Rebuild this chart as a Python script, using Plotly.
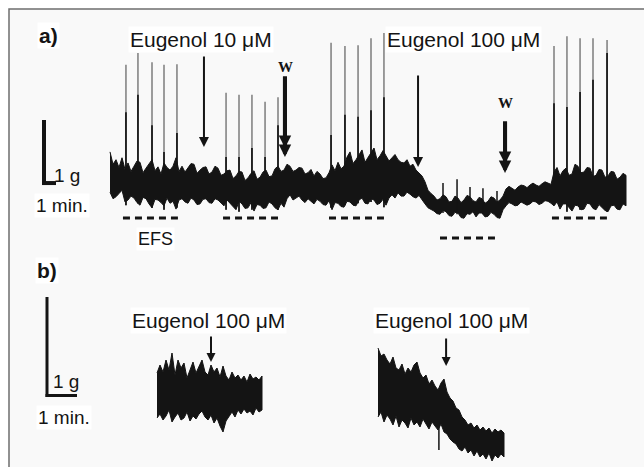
import plotly.graph_objects as go

W, H = 644, 467

# ---------------- Panel a: isometric tension recording ----------------
# envelope of the noisy trace (g), sampled every 0.25 min
a_step = 0.25
a_upper = [0.74, 0.55, 0.62, 0.50, 0.65, 0.47, 0.57, 0.44, 0.52, 0.60,
           0.58, 0.42, 0.49, 0.55, 0.62, 0.45, 0.51, 0.40, 0.57, 0.50,
           0.46, 0.52, 0.65, 0.44, 0.52, 0.43, 0.49, 0.56, 0.55, 0.41,
           0.46, 0.50, 0.51, 0.40, 0.43, 0.52, 0.49, 0.38, 0.40, 0.45,
           0.46, 0.33, 0.37, 0.44, 0.43, 0.30, 0.34, 0.41, 0.45, 0.32,
           0.35, 0.43, 0.46, 0.36, 0.37, 0.48, 0.52, 0.44, 0.46, 0.55,
           0.52, 0.44, 0.46, 0.50, 0.49, 0.40, 0.42, 0.47, 0.37, 0.44,
           0.40, 0.33, 0.34, 0.42, 0.54, 0.45, 0.58, 0.48, 0.52, 0.66,
           0.74, 0.56, 0.62, 0.70, 0.77, 0.58, 0.65, 0.74, 0.80, 0.62,
           0.68, 0.76, 0.69, 0.60, 0.65, 0.70, 0.62, 0.58, 0.57, 0.62,
           0.52, 0.55, 0.46, 0.42, 0.37, 0.28, 0.15, 0.10, 0.06, 0.00,
           0.02, 0.08, 0.05, -0.03, -0.02, 0.06, 0.03, -0.04, 0.00, 0.07,
           0.05, -0.01, -0.03, 0.04, 0.02, -0.05, -0.02, 0.05, 0.03, -0.03,
           0.00, 0.06, 0.17, 0.21, 0.18, 0.15, 0.20, 0.23, 0.22, 0.19,
           0.23, 0.26, 0.23, 0.21, 0.25, 0.28, 0.26, 0.24, 0.43, 0.50,
           0.37, 0.45, 0.49, 0.38, 0.40, 0.55, 0.52, 0.42, 0.43, 0.50,
           0.49, 0.36, 0.38, 0.47, 0.46, 0.35, 0.37, 0.44, 0.43, 0.32,
           0.35, 0.41, 0.38]
a_lower = [0.12, 0.02, 0.05, 0.10, 0.15, -0.03, 0.00, 0.06, 0.03, -0.04,
           -0.08, 0.04, 0.02, -0.06, -0.12, 0.01, 0.00, -0.04, -0.09, 0.03,
           -0.05, -0.02, -0.14, 0.00, 0.02, -0.03, -0.05, 0.03, 0.00, -0.07,
           -0.06, 0.01, 0.02, -0.04, -0.05, 0.02, 0.00, -0.05, -0.09, 0.00,
           -0.05, -0.10, -0.15, -0.02, -0.06, -0.13, -0.12, -0.04, -0.17, -0.07,
           -0.08, -0.13, -0.12, -0.03, -0.06, -0.12, -0.15, -0.05, -0.11, 0.02,
           0.08, 0.00, 0.03, 0.06, 0.00, -0.04, 0.02, -0.02, -0.06, 0.01,
           -0.02, -0.07, -0.08, -0.01, -0.15, -0.04, -0.05, -0.10, -0.11, -0.02,
           -0.03, -0.08, -0.09, 0.00, 0.03, -0.05, -0.06, 0.02, 0.00, -0.07,
           -0.05, 0.01, -0.08, 0.03, 0.08, 0.03, 0.11, 0.06, 0.06, 0.12,
           0.09, 0.05, 0.03, 0.07, 0.00, -0.06, -0.12, -0.15, -0.17, -0.21,
           -0.22, -0.16, -0.18, -0.24, -0.25, -0.19, -0.20, -0.27, -0.28, -0.21,
           -0.22, -0.18, -0.26, -0.20, -0.20, -0.26, -0.25, -0.19, -0.22, -0.27,
           -0.28, -0.15, -0.09, -0.04, -0.06, -0.09, -0.08, -0.03, -0.05, -0.08,
           -0.06, -0.02, -0.03, -0.07, -0.05, -0.01, -0.02, -0.05, -0.09, -0.03,
           -0.14, -0.06, -0.06, -0.12, -0.17, -0.08, -0.09, -0.15, -0.14, -0.05,
           -0.06, -0.13, -0.15, -0.07, -0.11, -0.16, -0.18, -0.09, -0.08, -0.14,
           -0.15, -0.06, -0.09]
a_time = [i * a_step for i in range(len(a_upper))]

# EFS-evoked twitches (min, g); dark = top of the darker lower part of each stroke
a_spike_time = [1.33, 2.33, 3.50, 4.50, 5.58,
                9.67, 10.75, 11.83, 12.92, 14.00,
                18.42, 19.58, 20.67, 21.75, 22.83,
                37.00, 38.08, 39.17, 40.25, 41.42]
a_spike_peak = [2.08, 2.26, 2.12, 2.08, 2.09,
                1.65, 1.62, 1.62, 1.51, 1.58,
                2.42, 2.37, 2.38, 2.49, 2.57,
                2.37, 2.52, 2.49, 2.49, 2.46]
a_spike_dark = [1.35, 1.62, 1.15, 0.74, 1.03,
                0.66, 0.66, 0.80, 0.66, 1.15,
                1.00, 1.31, 1.28, 1.38, 1.58,
                1.49, 1.43, 1.66, 1.85, 2.26]
a_spike_base = [-0.08, -0.05, -0.12, -0.15, -0.12,
                -0.15, -0.18, -0.15, -0.11, -0.15,
                -0.12, -0.08, -0.05, -0.03, -0.11,
                -0.08, -0.18, -0.15, -0.12, -0.18]
# small twitches during Eugenol 100 uM
a_small_time = [27.75, 28.92, 30.00, 31.08, 32.25]
a_small_peak = [0.26, 0.32, 0.20, 0.18, 0.14]
a_small_base = [-0.20, -0.22, -0.20, -0.22, -0.22]

# protocol events (min)
a_drug_time = [7.83, 25.67]
a_drug_label = ["Eugenol 10 \u03bcM", "Eugenol 100 \u03bcM"]
a_wash_time = [14.58, 32.92]
efs_start = [1.08, 9.42, 18.25, 27.50, 36.83]
efs_duration = 4.58

# ---------------- Panel b: two recordings with Eugenol 100 uM ----------------
b_step = 0.1
b1_upper = [0.47, 0.55, 0.48, 0.60, 0.50, 0.67, 0.45, 0.60, 0.52, 0.57,
            0.42, 0.50, 0.58, 0.47, 0.53, 0.60, 0.48, 0.45, 0.55, 0.48,
            0.52, 0.43, 0.54, 0.44, 0.40, 0.48, 0.42, 0.45, 0.40, 0.44,
            0.38, 0.46, 0.41, 0.43, 0.40, 0.44]
b1_lower = [0.02, 0.06, 0.00, 0.04, 0.10, -0.02, 0.03, 0.07, 0.00, 0.02,
            0.08, -0.01, 0.04, 0.01, 0.06, 0.09, 0.03, 0.00, 0.05, -0.03,
            0.02, -0.06, -0.12, -0.01, 0.04, 0.08, 0.03, 0.10, 0.06, 0.11,
            0.07, 0.09, 0.05, 0.12, 0.08, 0.10]
b2_upper = [0.72, 0.64, 0.66, 0.60, 0.56, 0.63, 0.52, 0.50, 0.56, 0.46,
            0.52, 0.48, 0.55, 0.58, 0.47, 0.42, 0.45, 0.36, 0.40, 0.34,
            0.30, 0.37, 0.41, 0.28, 0.22, 0.19, 0.12, 0.10, 0.03, 0.00,
            -0.05, -0.03, -0.08, -0.05, -0.10, -0.07, -0.11, -0.08, -0.13, -0.09,
            -0.12, -0.10, -0.13]
b2_lower = [0.03, 0.08, -0.02, 0.05, 0.01, -0.05, 0.04, -0.07, 0.00, -0.03,
            -0.08, 0.02, -0.05, -0.02, -0.07, 0.01, -0.04, -0.09, -0.02, -0.06,
            -0.10, -0.04, -0.12, -0.14, -0.19, -0.22, -0.24, -0.29, -0.31, -0.27,
            -0.33, -0.30, -0.36, -0.31, -0.37, -0.34, -0.39, -0.33, -0.41, -0.35,
            -0.38, -0.34, -0.37]
b1_time = [i * b_step for i in range(len(b1_upper))]
b2_time = [i * b_step for i in range(len(b2_upper))]
b2_dip_time = [2.03]
b2_dip_depth = [-0.30]
b_drug_time = [1.80, 2.27]   # addition time in each recording
b_drug_label = ["Eugenol 100 \u03bcM", "Eugenol 100 \u03bcM"]

# ---------------- layout calibration (pixels) ----------------
A_T0_PX, A_PX_PER_MIN, A_G0_PX, A_PX_PER_G = 110, 12, 200, 65
B1_T0_PX, B2_T0_PX, B_PX_PER_MIN, B_G0_PX, B_PX_PER_G = 157, 378, 30, 420, 100

def xr(t0, ppm):
    return [(0 - t0) / ppm, (W - t0) / ppm]

def yr(g0, ppg):
    return [(g0 - H) / ppg, g0 / ppg]

def px(x):
    return x / W

def py(y):
    return 1 - y / H

INK = "#141414"
FONT = "Liberation Sans, Arial, Helvetica, sans-serif"

def band(t, up, lo, xa, ya):
    return go.Scatter(x=t + t[::-1], y=up + lo[::-1], xaxis=xa, yaxis=ya,
                      fill="toself", fillcolor=INK, mode="lines",
                      line=dict(color=INK, width=1), hoverinfo="skip", showlegend=False)

def sticks(times, bases, peaks, xa, ya, color, width):
    xs, ys = [], []
    for t, b, p in zip(times, bases, peaks):
        xs += [t, t, None]
        ys += [b, p, None]
    return go.Scatter(x=xs, y=ys, xaxis=xa, yaxis=ya, mode="lines",
                      line=dict(color=color, width=width), hoverinfo="skip", showlegend=False)

fig = go.Figure()
fig.add_trace(sticks(a_spike_time, a_spike_base, a_spike_peak, "x", "y", "#6a6a6a", 1.3))
fig.add_trace(sticks(a_spike_time, a_spike_base, a_spike_dark, "x", "y", INK, 1.7))
fig.add_trace(band(a_time, a_upper, a_lower, "x", "y"))
fig.add_trace(sticks(a_small_time, a_small_base, a_small_peak, "x", "y", INK, 1.5))
fig.add_trace(band(b1_time, b1_upper, b1_lower, "x2", "y2"))
fig.add_trace(band(b2_time, b2_upper, b2_lower, "x3", "y2"))
fig.add_trace(sticks(b2_dip_time, [0.0], b2_dip_depth, "x3", "y2", INK, 1.5))

shapes = []
# frame
shapes.append(dict(type="rect", xref="paper", yref="paper", x0=px(9), x1=1.02, y0=-0.02, y1=py(9),
                   line=dict(color="#6e6e6e", width=1.5), fillcolor="#f9f9f9", layer="below"))
# scale bars (1 g, 1 min)
a_bar_t = (44 - A_T0_PX) / A_PX_PER_MIN
a_bar_g = (A_G0_PX - 185) / A_PX_PER_G
shapes.append(dict(type="line", xref="x", yref="y", x0=a_bar_t, x1=a_bar_t, y0=a_bar_g, y1=a_bar_g + 1,
                   line=dict(color=INK, width=4)))
shapes.append(dict(type="line", xref="x", yref="y", x0=a_bar_t - 0.15, x1=a_bar_t + 1, y0=a_bar_g + 0.03, y1=a_bar_g + 0.03,
                   line=dict(color=INK, width=4)))
b_bar_t = (47 - B1_T0_PX) / B_PX_PER_MIN
b_bar_g = (B_G0_PX - 397) / B_PX_PER_G
shapes.append(dict(type="line", xref="x2", yref="y2", x0=b_bar_t, x1=b_bar_t, y0=b_bar_g, y1=b_bar_g + 1,
                   line=dict(color=INK, width=3)))
shapes.append(dict(type="line", xref="x2", yref="y2", x0=b_bar_t - 0.05, x1=b_bar_t + 1, y0=b_bar_g + 0.015, y1=b_bar_g + 0.015,
                   line=dict(color=INK, width=3)))
# EFS periods
efs_row_px = [218, 218, 218, 238, 218]
for s, rowp in zip(efs_start, efs_row_px):
    shapes.append(dict(type="line", xref="x", yref="paper", x0=s, x1=s + efs_duration, y0=py(rowp), y1=py(rowp),
                       line=dict(color=INK, width=3, dash="7px,5px")))

ann = []
def text(s, x, y, size=18, bold=False, family=FONT, bg="white"):
    ann.append(dict(text=("<b>%s</b>" % s) if bold else s, x=px(x), y=py(y), xref="paper", yref="paper",
                    xanchor="center", yanchor="middle", showarrow=False, bgcolor=bg, borderpad=1,
                    font=dict(family=family, size=size, color=INK)))

def arrow(t, xref, tip, tail, width, size, head=2):
    ann.append(dict(text="", x=t, xref=xref, y=py(tip), yref="paper", ax=0, ay=tail - tip,
                    showarrow=True, arrowhead=head, arrowwidth=width, arrowsize=size,
                    arrowcolor=INK, standoff=0))

text("a)", 48, 35, 21, bold=True)
text("b)", 47, 270, 21, bold=True)
text("1 g", 67, 176, 19, bg="rgba(0,0,0,0)")
text("1 min.", 62, 205, 19)
text("1 g", 66, 381, 19, bg="rgba(0,0,0,0)")
text("1 min.", 64, 417, 19)
text("EFS", 155, 239, 18)
for lab, xpix in zip(a_drug_label, [201, 463]):
    text(lab, xpix, 40, 21)
for lab, xpix in zip(b_drug_label, [209, 451]):
    text(lab, xpix, 320, 21)
for xpix, ypix in zip([285, 505], [67, 103]):
    text("W", xpix, ypix, 15, bold=True, family="Liberation Serif, Times New Roman, serif", bg="rgba(0,0,0,0)")

# arrows
arrow(a_drug_time[0], "x", 147, 55, 2, 1.0)
arrow(a_drug_time[1], "x", 167, 74, 2, 1.0)
for wt, tip, tail in zip(a_wash_time, [157, 173], [75, 120]):
    arrow(wt, "x", tip, tail, 4, 0.62)
    arrow(wt, "x", tip - 9, tail, 4, 0.62)
arrow(b_drug_time[0], "x2", 362, 335, 2, 0.9)
arrow(b_drug_time[1], "x3", 366, 337, 2, 0.9)

hidden = dict(visible=False, fixedrange=True)
fig.update_layout(
    width=W, height=H, margin=dict(l=0, r=0, t=0, b=0),
    paper_bgcolor="white", plot_bgcolor="rgba(0,0,0,0)", showlegend=False,
    xaxis=dict(domain=[0, 1], range=xr(A_T0_PX, A_PX_PER_MIN), **hidden),
    yaxis=dict(domain=[0, 1], range=yr(A_G0_PX, A_PX_PER_G), **hidden),
    xaxis2=dict(domain=[0, 1], range=xr(B1_T0_PX, B_PX_PER_MIN), overlaying="x", anchor="y2", **hidden),
    xaxis3=dict(domain=[0, 1], range=xr(B2_T0_PX, B_PX_PER_MIN), overlaying="x", anchor="y2", **hidden),
    yaxis2=dict(domain=[0, 1], range=yr(B_G0_PX, B_PX_PER_G), overlaying="y", anchor="x2", **hidden),
    shapes=shapes, annotations=ann,
)
fig.write_html("out.html", config={"displayModeBar": False},
               post_script="document.body.style.margin='0';document.body.style.overflow='hidden';")
